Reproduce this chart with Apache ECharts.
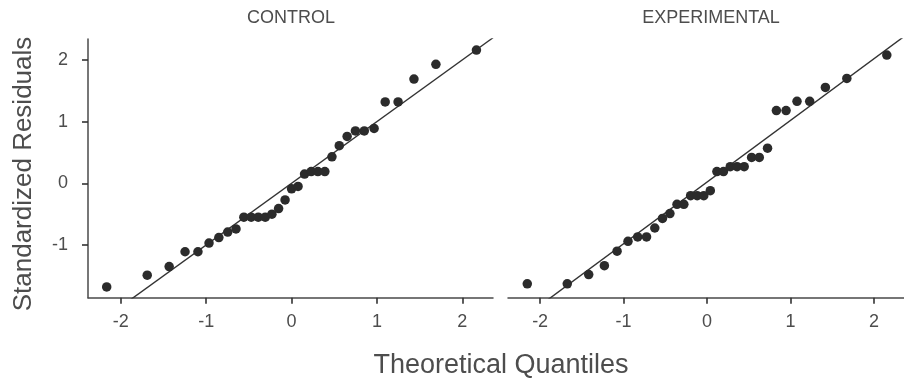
<!DOCTYPE html>
<html><head><meta charset="utf-8">
<script src="https://cdn.jsdelivr.net/npm/echarts@6/dist/echarts.min.js"></script>
<style>html,body{margin:0;padding:0;background:#fff}#c{width:904px;height:380px}</style>
</head><body><div id="c"></div>
<script>
const panelTitles = ['CONTROL', 'EXPERIMENTAL'];
const xTicks = [-2, -1, 0, 1, 2];
const yTicks = [-1, 0, 1, 2];

const ctrlX = [-2.166,-1.691,-1.434,-1.248,-1.097,-0.967,-0.852,-0.748,-0.651,-0.559,-0.473,-0.390,-0.308,-0.230,-0.152,-0.076,0,0.076,0.152,0.230,0.308,0.390,0.473,0.559,0.651,0.748,0.852,0.967,1.097,1.248,1.434,1.691,2.166];
const ctrlY = [-1.68,-1.49,-1.35,-1.11,-1.11,-0.97,-0.88,-0.79,-0.74,-0.55,-0.55,-0.55,-0.55,-0.50,-0.41,-0.27,-0.09,-0.05,0.15,0.19,0.19,0.19,0.43,0.61,0.76,0.85,0.85,0.89,1.32,1.32,1.69,1.93,2.16];

const expX = [-2.154,-1.675,-1.418,-1.230,-1.078,-0.947,-0.831,-0.725,-0.626,-0.534,-0.445,-0.360,-0.278,-0.197,-0.118,-0.039,0.039,0.118,0.197,0.278,0.360,0.445,0.534,0.626,0.725,0.831,0.947,1.078,1.230,1.418,1.675,2.154];
const expY = [-1.63,-1.63,-1.48,-1.335,-1.10,-0.94,-0.87,-0.87,-0.725,-0.57,-0.49,-0.34,-0.34,-0.20,-0.20,-0.20,-0.12,0.19,0.19,0.27,0.27,0.27,0.42,0.42,0.57,1.18,1.18,1.33,1.33,1.555,1.70,2.08];

// reference lines: [intercept, slope]
const ctrlFit = [0.0, 1.0];
const expFit = [0.02, 1.0];

const xRange = [-2.385, 2.36];
const yRange = [-1.855, 2.34];

const FONT = 'Liberation Sans, Arial, Helvetica, sans-serif';
const txt = '#4d4d4d';
const dark = '#333333';

const chart = echarts.init(document.getElementById('c'), null, {renderer: 'canvas'});

function pts(xs, ys) { return xs.map((x, i) => [x, ys[i]]); }
function fitLine(f) { return xRange.map(x => [x, f[0] + f[1] * x]); }

function xAx(gi) {
  return {
    type: 'value', gridIndex: gi, min: xRange[0], max: xRange[1],
    splitLine: {show: false},
    axisLine: {show: true, onZero: false, lineStyle: {color: '#4a4a4a', width: 1.5}},
    axisTick: {show: true, length: 6, customValues: xTicks, lineStyle: {color: dark, width: 1.6}},
    axisLabel: {customValues: xTicks, fontSize: 18, color: txt, margin: 15, fontFamily: FONT}
  };
}
function yAx(gi, show) {
  return {
    type: 'value', gridIndex: gi, min: yRange[0], max: yRange[1], show: show,
    splitLine: {show: false},
    axisLine: {show: show, onZero: false, lineStyle: {color: '#4a4a4a', width: 1.5}},
    axisTick: {show: show, length: 6, customValues: yTicks, lineStyle: {color: dark, width: 1.6}},
    axisLabel: {show: show, customValues: yTicks, fontSize: 18, color: txt, margin: 20, fontFamily: FONT}
  };
}

const option = {
  animation: false,
  backgroundColor: '#fff',
  grid: [
    {left: 88, top: 39, width: 405, height: 258.7, containLabel: false},
    {left: 508, top: 39, width: 405, height: 258.7, containLabel: false}
  ],
  xAxis: [xAx(0), xAx(1)],
  yAxis: [yAx(0, true), yAx(1, false)],
  graphic: [
    {type: 'text', x: 291, y: 18, style: {text: panelTitles[0], fontSize: 18, fill: txt, fontFamily: FONT, textAlign: 'center', textVerticalAlign: 'middle'}},
    {type: 'text', x: 711, y: 18, style: {text: panelTitles[1], fontSize: 18, fill: txt, fontFamily: FONT, textAlign: 'center', textVerticalAlign: 'middle'}},
    {type: 'text', x: 24, y: 174, rotation: Math.PI / 2, style: {text: 'Standardized Residuals', fontSize: 26, fill: txt, fontFamily: FONT, textAlign: 'center', textVerticalAlign: 'middle'}},
    {type: 'text', x: 501, y: 366, style: {text: 'Theoretical Quantiles', fontSize: 27, fill: txt, fontFamily: FONT, textAlign: 'center', textVerticalAlign: 'middle'}}
  ],
  series: [
    {type: 'line', xAxisIndex: 0, yAxisIndex: 0, data: fitLine(ctrlFit), showSymbol: false, symbol: 'none', clip: true, lineStyle: {color: dark, width: 1.4}, z: 2, silent: true},
    {type: 'line', xAxisIndex: 1, yAxisIndex: 1, data: fitLine(expFit), showSymbol: false, symbol: 'none', clip: true, lineStyle: {color: dark, width: 1.4}, z: 2, silent: true},
    {type: 'scatter', xAxisIndex: 0, yAxisIndex: 0, data: pts(ctrlX, ctrlY), symbolSize: 9.5, itemStyle: {color: '#2b2b2b', opacity: 1}, z: 3},
    {type: 'scatter', xAxisIndex: 1, yAxisIndex: 1, data: pts(expX, expY), symbolSize: 9.5, itemStyle: {color: '#2b2b2b', opacity: 1}, z: 3}
  ]
};
chart.setOption(option);
</script>
</body></html>
